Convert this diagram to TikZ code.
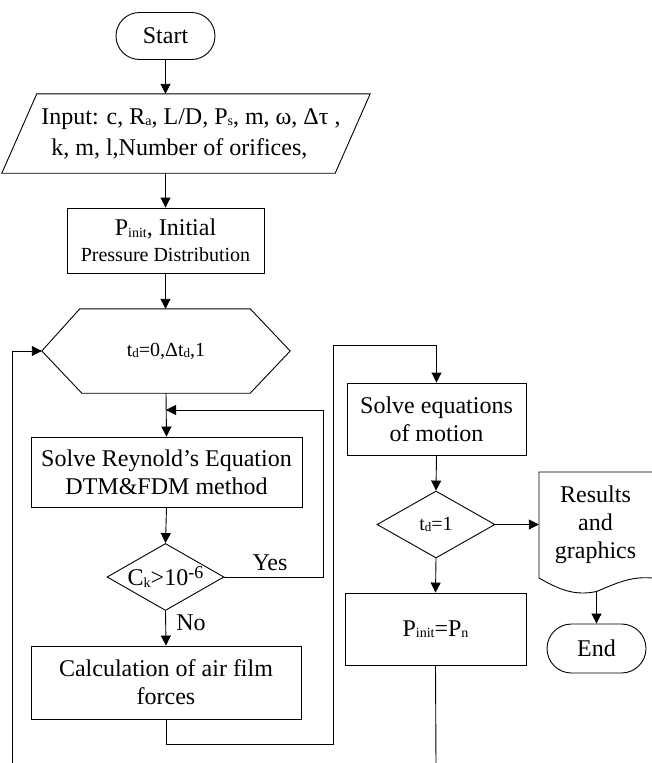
\documentclass[tikz,border=0pt]{standalone}
\usepackage{fontspec}
\setmainfont{Liberation Serif}
\usetikzlibrary{arrows.meta,shapes.geometric,shapes.misc,calc}
\newcommand\lsub[1]{\raisebox{-1.5pt}{\fontsize{14}{14}\selectfont #1}}
\newcommand\tsub[1]{\raisebox{-1pt}{\fontsize{13}{13}\selectfont #1}}
\begin{document}
\begin{tikzpicture}[x=1pt,y=-1pt,
 every node/.style={font=\fontsize{24}{28}\selectfont, inner sep=0pt, text=black},
 box/.style={draw, line width=0.9pt, rectangle, align=center},
 term/.style={draw, rounded rectangle, line width=0.9pt, minimum width=99pt, minimum height=47pt},
 dec/.style={draw, diamond, line width=0.9pt},
 ghost/.style={rectangle, align=center},
 arr/.style={-{Triangle[length=10pt,width=10pt]}, line width=0.9pt},
 ln/.style={line width=0.9pt},
 small/.style={font=\fontsize{20}{22}\selectfont}
]
\useasboundingbox (0,0) rectangle (652,763);

% nodes
\node[term] (start) at (165.5,36) {Start};
\node[ghost, minimum width=368pt, minimum height=79pt, align=left] (input) at (186,133.5)
  {\hspace*{10pt}Input: c, R\lsub{a}, L/D, P\lsub{s}, m, ω, Δτ ,\\[3pt]
   \hspace*{20pt}k, m, l,Number of orifices,};
\node[box, minimum width=197pt, minimum height=65pt] (pinit) at (165.5,240.5)
  {P\lsub{init}, Initial\\[-2pt]{\fontsize{20}{22}\selectfont Pressure Distribution}};
\node[ghost, minimum width=248pt, minimum height=84pt, small] (hex) at (166,351)
  {t\tsub{d}=0,Δt\tsub{d},1};
\node[box, minimum width=271pt, minimum height=70pt] (rey) at (166.5,472)
  {Solve Reynold's Equation\\DTM\&FDM method};
\node[dec, minimum width=117pt, minimum height=67pt,
  label={[font=\fontsize{24}{28}\selectfont]center:C\lsub{k}>10\raisebox{7pt}{\fontsize{18}{18}\selectfont -6}}] (ck) at (165.5,577) {};
\node[box, minimum width=270pt, minimum height=73pt] (calc) at (166,682.5)
  {Calculation of air film\\forces};
\node[box, minimum width=179pt, minimum height=72pt] (solve) at (436.5,419)
  {Solve equations\\of motion};
\node[dec, minimum width=118pt, minimum height=67pt,
  label={[small]center:t\tsub{d}=1}] (td) at (436,524.5) {};
\node[ghost, minimum width=113pt, minimum height=106pt] (doc) at (595.5,525)
  {Results\\and\\graphics};
\node[term, minimum height=49pt] (end) at (596.5,648.5) {End};
\node[box, minimum width=181pt, minimum height=72pt] (pn) at (435.5,629)
  {P\lsub{init}=P\lsub{n}};
\node (yes) at (270,563) {Yes};
\node (no) at (191,623) {No};

% shapes drawn by path
\draw[ln] ($(input.north west)+(35,0)$) -- (input.north east)
  -- ($(input.south east)+(-35,0)$) -- (input.south west) -- cycle;
\draw[ln] (hex.west) -- ($(hex.north west)+(38,0)$) -- ($(hex.north east)+(-40,0)$)
  -- (hex.east) -- ($(hex.south east)+(-40,0)$) -- ($(hex.south west)+(40,0)$) -- cycle;
\coordinate (docbl) at (539,578);
\coordinate (docb) at (596.5,591.5);
\draw[ln] (docbl) -- (539,472) -- (662,472) -- (662,578) -- (652,578)
  .. controls (630,576) and (615,584) .. (docb)
  .. controls (575,596) and (560,590) .. (docbl);

% coordinates for free ends / corners
\coordinate (join) at (166,410);
\coordinate (yc) at (323,410);
\coordinate (c1) at (333,744);
\coordinate (c2) at (333,345);
\coordinate (lb) at (12,765);
\coordinate (rb) at (436,765);

% connectors
\draw[arr] (start.south) -- (start.south |- input.north);
\draw[arr] (input.south -| pinit.north) -- (pinit.north);
\draw[arr] (pinit.south) -- (pinit.south |- hex.north);
\draw[arr] (hex.south) -- (rey.north);
\draw[arr] (ck.east) -| (yc) -- (join);
\draw[arr] (rey.south) -- (ck.north);
\draw[arr] (ck.south) -- (calc.north);
\draw[arr] (calc.south) |- (c1) -- (c2) -| (solve.north);
\draw[arr] (solve.south) -- (td.north);
\draw[arr] (td.east) -- (td.east -| doc.west);
\draw[arr] (docb) -- (end.north);
\draw[arr] (td.south) -- (pn.north);
\draw[ln] (pn.south) -- (rb);
\draw[arr] (lb) |- (hex.west);
\end{tikzpicture}
\end{document}
